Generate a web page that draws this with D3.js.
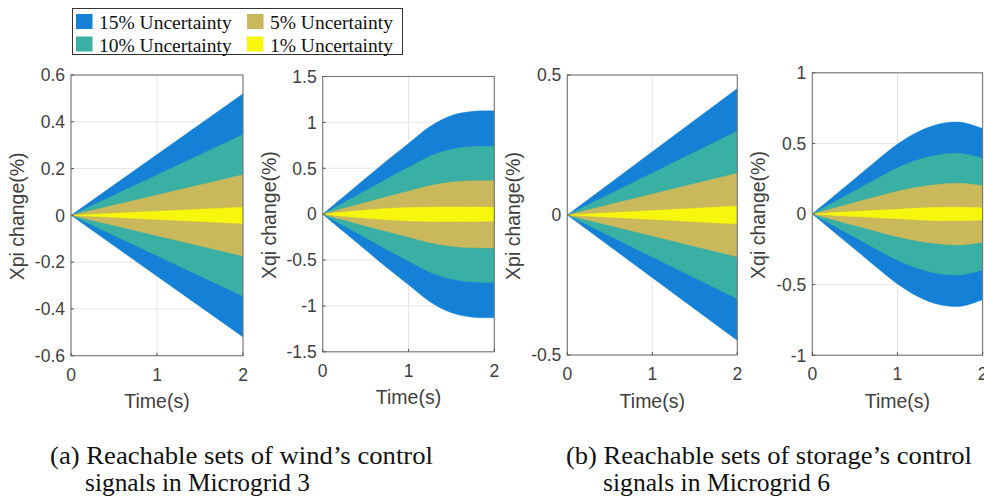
<!DOCTYPE html>
<html><head><meta charset="utf-8">
<script src="https://cdn.jsdelivr.net/npm/d3@7"></script>
<style>body{margin:0;background:#fff}svg{display:block}</style>
</head><body><svg id="c" width="984" height="502"></svg>
<script>
// ---------- DATA ----------
const levels = ["15% Uncertainty", "10% Uncertainty", "5% Uncertainty", "1% Uncertainty"];
const tLinear = [0, 1, 2];
const tCurve = [0, 0.25, 0.5, 0.75, 1, 1.25, 1.5, 1.75, 2];
const xTicks = [0, 1, 2];

// (a) wind, Microgrid 3 - Xpi (upper / lower bounds)
const windXpi15Up = [0, 0.26, 0.52],   windXpi15Lo = [0, -0.26, -0.52];
const windXpi10Up = [0, 0.173, 0.346], windXpi10Lo = [0, -0.173, -0.346];
const windXpi5Up  = [0, 0.087, 0.174], windXpi5Lo  = [0, -0.087, -0.174];
const windXpi1Up  = [0, 0.018, 0.035], windXpi1Lo  = [0, -0.018, -0.035];
const windXpiTicks = [-0.6, -0.4, -0.2, 0, 0.2, 0.4, 0.6];

// (a) wind, Microgrid 3 - Xqi
const windXqi15Up = [0, 0.195, 0.39, 0.585, 0.77, 0.955, 1.075, 1.12, 1.125];
const windXqi15Lo = [0, -0.195, -0.39, -0.585, -0.77, -0.955, -1.075, -1.123, -1.128];
const windXqi10Up = [0, 0.129, 0.258, 0.387, 0.51, 0.632, 0.707, 0.737, 0.738];
const windXqi10Lo = [0, -0.129, -0.258, -0.387, -0.51, -0.632, -0.707, -0.74, -0.742];
const windXqi5Up  = [0, 0.064, 0.128, 0.19, 0.25, 0.311, 0.349, 0.363, 0.365];
const windXqi5Lo  = [0, -0.064, -0.128, -0.19, -0.25, -0.311, -0.35, -0.366, -0.368];
const windXqi1Up  = [0, 0.024, 0.045, 0.062, 0.072, 0.077, 0.078, 0.077, 0.075];
const windXqi1Lo  = [0, -0.024, -0.045, -0.062, -0.074, -0.079, -0.081, -0.08, -0.078];
const windXqiTicks = [-1.5, -1, -0.5, 0, 0.5, 1, 1.5];

// (b) storage, Microgrid 6 - Xpi
const storXpi15Up = [0, 0.226, 0.452], storXpi15Lo = [0, -0.224, -0.448];
const storXpi10Up = [0, 0.15, 0.30],   storXpi10Lo = [0, -0.15, -0.30];
const storXpi5Up  = [0, 0.075, 0.149], storXpi5Lo  = [0, -0.075, -0.149];
const storXpi1Up  = [0, 0.016, 0.032], storXpi1Lo  = [0, -0.016, -0.032];
const storXpiTicks = [-0.5, 0, 0.5];

// (b) storage, Microgrid 6 - Xqi
const storXqi15Up = [0, 0.125, 0.25, 0.375, 0.495, 0.585, 0.64, 0.65, 0.605];
const storXqi15Lo = [0, -0.125, -0.25, -0.375, -0.495, -0.587, -0.643, -0.653, -0.607];
const storXqi10Up = [0, 0.083, 0.165, 0.248, 0.328, 0.386, 0.422, 0.429, 0.395];
const storXqi10Lo = [0, -0.083, -0.165, -0.248, -0.328, -0.387, -0.424, -0.431, -0.397];
const storXqi5Up  = [0, 0.041, 0.082, 0.122, 0.162, 0.192, 0.211, 0.218, 0.2];
const storXqi5Lo  = [0, -0.041, -0.082, -0.122, -0.162, -0.193, -0.212, -0.219, -0.2];
const storXqi1Up  = [0, 0.01, 0.018, 0.026, 0.034, 0.042, 0.047, 0.047, 0.044];
const storXqi1Lo  = [0, -0.01, -0.018, -0.026, -0.034, -0.042, -0.047, -0.047, -0.044];
const storXqiTicks = [-1, -0.5, 0, 0.5, 1];

const captionA = ["(a) Reachable sets of wind\u2019s control", "signals in Microgrid 3"];
const captionB = ["(b) Reachable sets of storage\u2019s control", "signals in Microgrid 6"];

// ---------- STYLE / LAYOUT ----------
const colors = ["#1481d6", "#3aafa3", "#c9b85c", "#f7f70d"];
const tickFont = "'Liberation Sans', Arial, sans-serif";
const serif = "'Liberation Serif', 'Times New Roman', serif";

const panels = [
  {x0: 71, x1: 243, y0: 75, y1: 355.7, dom: [-0.6, 0.6], ticks: windXpiTicks, label: "Xpi change(%)", t: tLinear,
   up: [windXpi15Up, windXpi10Up, windXpi5Up, windXpi1Up], lo: [windXpi15Lo, windXpi10Lo, windXpi5Lo, windXpi1Lo], curve: d3.curveLinear},
  {x0: 322.7, x1: 494.3, y0: 76.5, y1: 351.8, dom: [-1.5, 1.5], ticks: windXqiTicks, label: "Xqi change(%)", t: tCurve,
   up: [windXqi15Up, windXqi10Up, windXqi5Up, windXqi1Up], lo: [windXqi15Lo, windXqi10Lo, windXqi5Lo, windXqi1Lo], curve: d3.curveCatmullRom},
  {x0: 567.3, x1: 737.3, y0: 75, y1: 355, dom: [-0.5, 0.5], ticks: storXpiTicks, label: "Xpi change(%)", t: tLinear,
   up: [storXpi15Up, storXpi10Up, storXpi5Up, storXpi1Up], lo: [storXpi15Lo, storXpi10Lo, storXpi5Lo, storXpi1Lo], curve: d3.curveLinear},
  {x0: 812.3, x1: 982.6, y0: 72.8, y1: 355.2, dom: [-1, 1], ticks: storXqiTicks, label: "Xqi change(%)", t: tCurve,
   up: [storXqi15Up, storXqi10Up, storXqi5Up, storXqi1Up], lo: [storXqi15Lo, storXqi10Lo, storXqi5Lo, storXqi1Lo], curve: d3.curveCatmullRom}
];

const svg = d3.select("#c");
svg.append("rect").attr("width", 984).attr("height", 502).attr("fill", "#fff");

panels.forEach((p, pi) => {
  const x = d3.scaleLinear().domain([0, 2]).range([p.x0, p.x1]);
  const y = d3.scaleLinear().domain(p.dom).range([p.y1, p.y0]);
  const g = svg.append("g");
  const cid = "clip" + pi;
  svg.append("clipPath").attr("id", cid).append("rect")
    .attr("x", p.x0).attr("y", p.y0).attr("width", p.x1 - p.x0).attr("height", p.y1 - p.y0);

  // grid
  const grid = g.append("g").attr("stroke", "#e6e6e6").attr("stroke-width", 1);
  xTicks.forEach(v => grid.append("line").attr("x1", x(v)).attr("x2", x(v)).attr("y1", p.y0).attr("y2", p.y1));
  p.ticks.forEach(v => grid.append("line").attr("x1", p.x0).attr("x2", p.x1).attr("y1", y(v)).attr("y2", y(v)));

  // bands
  const bands = g.append("g").attr("clip-path", `url(#${cid})`);
  levels.forEach((lv, i) => {
    const pts = p.t.map((tv, j) => ({t: tv, a: p.lo[i][j], b: p.up[i][j]}));
    const area = d3.area().x(d => x(d.t)).y0(d => y(d.a)).y1(d => y(d.b)).curve(p.curve);
    bands.append("path").attr("d", area(pts)).attr("fill", colors[i]).attr("stroke", colors[i]).attr("stroke-width", 0.4);
  });

  // frame
  g.append("rect").attr("x", p.x0).attr("y", p.y0).attr("width", p.x1 - p.x0).attr("height", p.y1 - p.y0)
    .attr("fill", "none").attr("stroke", "#777").attr("stroke-width", 1.1);

  // inward ticks
  const tk = g.append("g").attr("stroke", "#555").attr("stroke-width", 1);
  p.ticks.forEach(v => tk.append("line").attr("x1", p.x0).attr("x2", p.x0 + 3).attr("y1", y(v)).attr("y2", y(v)));
  xTicks.forEach(v => tk.append("line").attr("x1", x(v)).attr("x2", x(v)).attr("y1", p.y1).attr("y2", p.y1 - 3));

  // tick labels
  p.ticks.forEach(v => g.append("text").attr("x", p.x0 - 6).attr("y", y(v)).attr("dy", "0.36em")
    .attr("text-anchor", "end").attr("font-family", tickFont).attr("font-size", 17.5).attr("fill", "#404040").text(String(v)));
  xTicks.forEach(v => g.append("text").attr("x", x(v)).attr("y", p.y1 + 18.5).attr("dy", "0.36em")
    .attr("text-anchor", "middle").attr("font-family", tickFont).attr("font-size", 17.5).attr("fill", "#404040").text(String(v)));

  // axis labels
  g.append("text").attr("x", (p.x0 + p.x1) / 2).attr("y", p.y1 + 45.5).attr("dy", "0.36em")
    .attr("text-anchor", "middle").attr("font-family", tickFont).attr("font-size", 19.5).attr("fill", "#404040").text("Time(s)");
  g.append("text").attr("transform", `translate(${p.x0 - 54},${(p.y0 + p.y1) / 2 + 1}) rotate(-90)`).attr("dy", "0.36em")
    .attr("text-anchor", "middle").attr("font-family", tickFont).attr("font-size", 19.5).attr("fill", "#404040").text(p.label);
});

// legend
const lg = svg.append("g");
lg.append("rect").attr("x", 72.5).attr("y", 8.5).attr("width", 330).attr("height", 46)
  .attr("fill", "#fff").attr("stroke", "#333").attr("stroke-width", 1);
const legPos = [[76, 14], [76, 36.5], [247, 14], [247, 36.5]];
levels.forEach((lv, i) => {
  const [lx, ly] = legPos[i];
  lg.append("rect").attr("x", lx).attr("y", ly).attr("width", 16.5).attr("height", 15).attr("fill", colors[i]);
  lg.append("text").attr("x", lx + 23).attr("y", ly + 15).attr("font-family", serif).attr("font-size", 19.5)
    .attr("fill", "#111").text(lv);
});

// captions
const capLines = [
  {txt: captionA[0], x: 50, y: 464, w: 383},
  {txt: captionA[1], x: 85, y: 491, w: 225},
  {txt: captionB[0], x: 566, y: 464, w: 406},
  {txt: captionB[1], x: 603, y: 491, w: 227}
];
capLines.forEach(c => svg.append("text").attr("x", c.x).attr("y", c.y).attr("font-family", serif)
  .attr("font-size", 25).attr("fill", "#111").attr("textLength", c.w).attr("lengthAdjust", "spacingAndGlyphs").text(c.txt));
</script></body></html>
